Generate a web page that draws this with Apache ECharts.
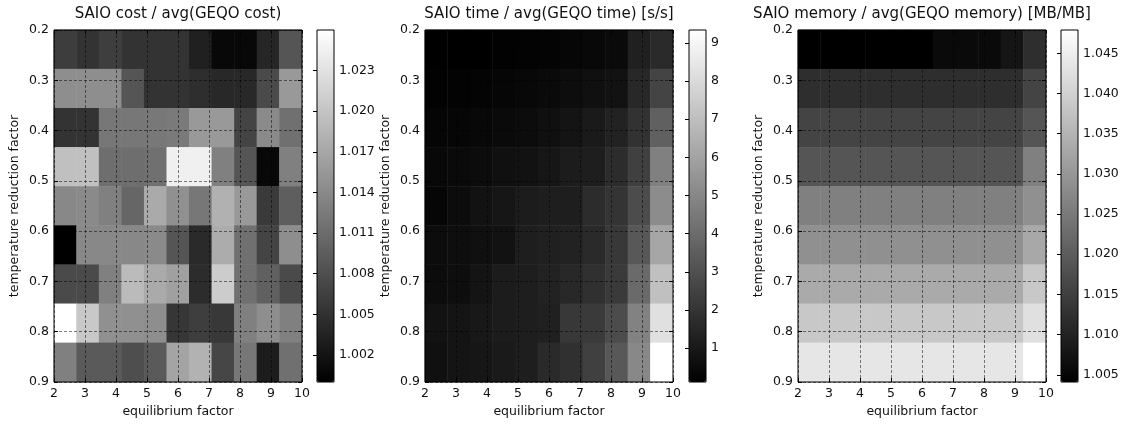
<!DOCTYPE html>
<html><head><meta charset="utf-8">
<script src="https://cdn.jsdelivr.net/npm/echarts@6/dist/echarts.min.js"></script>
<style>html,body{margin:0;padding:0;background:#fff}#c{width:1124px;height:424px}</style>
</head><body><div id="c"></div>
<script>
// ---- data ----
const titles = ['SAIO cost / avg(GEQO cost)', 'SAIO time / avg(GEQO time) [s/s]', 'SAIO memory / avg(GEQO memory) [MB/MB]'];
const xName = 'equilibrium factor';
const yName = 'temperature reduction factor';
const xTicks = [2, 3, 4, 5, 6, 7, 8, 9, 10];
const yTicks = [0.2, 0.3, 0.4, 0.5, 0.6, 0.7, 0.8, 0.9];
const xCells = ['1','2','3','4','5','6','7','8','9','10','11'];
const yCells = ['1','2','3','4','5','6','7','8','9'];

const costRows = [
  [1.0062, 1.0052, 1.0063, 1.0052, 1.0052, 1.0052, 1.0033, 1.0008, 1.0008, 1.0039, 1.0087],
  [1.0145, 1.0145, 1.0145, 1.0087, 1.0052, 1.0052, 1.0047, 1.0041, 1.0041, 1.0075, 1.0156],
  [1.0052, 1.0052, 1.0121, 1.0121, 1.0122, 1.0124, 1.0156, 1.0156, 1.0069, 1.0141, 1.0114],
  [1.0196, 1.0196, 1.0112, 1.0112, 1.0114, 1.0245, 1.0245, 1.0131, 1.0087, 1.0008, 1.0131],
  [1.0139, 1.0141, 1.0131, 1.0104, 1.0173, 1.0147, 1.0121, 1.0180, 1.0156, 1.0059, 1.0096],
  [1.0000, 1.0139, 1.0139, 1.0139, 1.0141, 1.0087, 1.0043, 1.0175, 1.0114, 1.0069, 1.0145],
  [1.0075, 1.0075, 1.0131, 1.0191, 1.0173, 1.0163, 1.0045, 1.0208, 1.0114, 1.0098, 1.0075],
  [1.0260, 1.0204, 1.0147, 1.0147, 1.0145, 1.0055, 1.0063, 1.0057, 1.0131, 1.0145, 1.0131],
  [1.0131, 1.0092, 1.0092, 1.0080, 1.0092, 1.0167, 1.0182, 1.0071, 1.0121, 1.0029, 1.0114]
];
const timeRows = [
  [0.11, 0.11, 0.11, 0.18, 0.22, 0.25, 0.33, 0.40, 0.47, 1.27, 1.63],
  [0.18, 0.22, 0.25, 0.33, 0.40, 0.47, 0.58, 0.69, 0.76, 1.56, 2.57],
  [0.29, 0.33, 0.40, 0.47, 0.54, 0.69, 0.83, 1.05, 1.34, 1.92, 3.59],
  [0.40, 0.47, 0.54, 0.69, 0.76, 0.91, 1.12, 1.20, 1.70, 2.43, 4.74],
  [0.33, 0.54, 0.76, 0.91, 1.12, 1.20, 1.20, 1.70, 1.99, 2.86, 5.18],
  [0.54, 0.62, 0.69, 0.76, 1.20, 1.27, 1.34, 1.63, 2.14, 3.30, 6.12],
  [0.54, 0.62, 0.83, 1.12, 1.20, 1.34, 1.56, 1.85, 2.21, 3.95, 7.06],
  [0.76, 0.83, 0.98, 1.12, 1.20, 1.27, 2.14, 2.21, 2.86, 4.82, 8.22],
  [0.69, 0.83, 0.91, 1.05, 1.20, 1.63, 1.85, 2.43, 3.30, 5.03, 9.34]
];
const memRows = [
  [1.0041, 1.0041, 1.0041, 1.0041, 1.0041, 1.0041, 1.0058, 1.0058, 1.0058, 1.0077, 1.0120],
  [1.0120, 1.0120, 1.0120, 1.0120, 1.0120, 1.0120, 1.0120, 1.0120, 1.0120, 1.0120, 1.0158],
  [1.0158, 1.0158, 1.0158, 1.0158, 1.0158, 1.0158, 1.0158, 1.0158, 1.0158, 1.0158, 1.0187],
  [1.0187, 1.0187, 1.0187, 1.0187, 1.0187, 1.0187, 1.0187, 1.0187, 1.0187, 1.0187, 1.0261],
  [1.0261, 1.0261, 1.0261, 1.0261, 1.0261, 1.0261, 1.0261, 1.0261, 1.0261, 1.0261, 1.0288],
  [1.0288, 1.0288, 1.0288, 1.0288, 1.0288, 1.0288, 1.0288, 1.0288, 1.0288, 1.0288, 1.0330],
  [1.0333, 1.0333, 1.0333, 1.0333, 1.0333, 1.0333, 1.0333, 1.0333, 1.0333, 1.0333, 1.0385],
  [1.0385, 1.0385, 1.0385, 1.0385, 1.0385, 1.0385, 1.0385, 1.0385, 1.0385, 1.0385, 1.0426],
  [1.0436, 1.0436, 1.0436, 1.0436, 1.0436, 1.0436, 1.0436, 1.0436, 1.0436, 1.0436, 1.0479]
];
const costRange = [1.0000, 1.0260];
const timeRange = [0.11, 9.34];
const memRange = [1.0041, 1.0479];
const costCbTicks = [1.002, 1.005, 1.008, 1.011, 1.014, 1.017, 1.020, 1.023];
const timeCbTicks = [1, 2, 3, 4, 5, 6, 7, 8, 9];
const memCbTicks = [1.005, 1.010, 1.015, 1.020, 1.025, 1.030, 1.035, 1.040, 1.045];

// ---- layout / style ----
const FONT = 'DejaVu Sans';
const TXT = '#111';
const TOP = 30, W = 248, H = 352, CBW = 17;
const panels = [
  {left: 54, cbLeft: 317, rows: costRows, range: costRange, cbTicks: costCbTicks, fmt: v => v.toFixed(3)},
  {left: 425, cbLeft: 689, rows: timeRows, range: timeRange, cbTicks: timeCbTicks, fmt: v => String(v)},
  {left: 798, cbLeft: 1061, rows: memRows, range: memRange, cbTicks: memCbTicks, fmt: v => v.toFixed(3)}
];

const option = {
  animation: false,
  backgroundColor: '#fff',
  textStyle: {fontFamily: FONT},
  title: [], grid: [], xAxis: [], yAxis: [], series: [], visualMap: []
};

const labelStyle = {fontFamily: FONT, fontSize: 12.5, color: TXT};
const tickStyle = {inside: true, length: 4, lineStyle: {color: '#000', width: 1}};
const gridLine = {show: true, lineStyle: {color: '#000', opacity: 0.5, width: 1, type: [3, 2]}};

panels.forEach((p, i) => {
  const g = i * 3;
  option.title.push({
    text: titles[i], left: p.left + W / 2, top: 7, textAlign: 'center', padding: 0,
    textStyle: {fontFamily: FONT, fontSize: 15, fontWeight: 'normal', color: TXT}
  });
  option.grid.push({left: p.left, top: TOP, width: W, height: H, containLabel: false});
  option.grid.push({left: p.left, top: TOP, width: W, height: H, show: true, borderColor: '#000', borderWidth: 1, backgroundColor: 'transparent', z: 6});
  option.grid.push({left: p.cbLeft, top: TOP, width: CBW, height: H, show: true, borderColor: '#000', borderWidth: 1, backgroundColor: 'transparent', z: 10});

  option.xAxis.push({gridIndex: g, type: 'category', data: xCells, show: false});
  option.yAxis.push({gridIndex: g, type: 'category', data: yCells, inverse: true, show: false});

  option.xAxis.push({
    gridIndex: g + 1, type: 'value', min: xTicks[0], max: xTicks[xTicks.length - 1], interval: 1, position: 'bottom', z: 7,
    axisLine: {show: false}, axisTick: tickStyle,
    axisLabel: Object.assign({margin: 5}, labelStyle),
    splitLine: gridLine,
    name: xName, nameLocation: 'middle', nameGap: 23, nameTextStyle: labelStyle
  });
  option.xAxis.push({
    gridIndex: g + 1, type: 'value', min: xTicks[0], max: xTicks[xTicks.length - 1], interval: 1, position: 'top', z: 7,
    axisLine: {show: false}, axisTick: tickStyle, axisLabel: {show: false}, splitLine: {show: false}
  });
  option.yAxis.push({
    gridIndex: g + 1, type: 'value', min: yTicks[0], max: yTicks[yTicks.length - 1], interval: 0.1, inverse: true, position: 'left', z: 7,
    axisLine: {show: false}, axisTick: tickStyle,
    axisLabel: Object.assign({margin: 5, formatter: v => v.toFixed(1)}, labelStyle),
    splitLine: gridLine,
    name: yName, nameLocation: 'middle', nameGap: 33, nameRotate: 90, nameTextStyle: labelStyle
  });
  option.yAxis.push({
    gridIndex: g + 1, type: 'value', min: yTicks[0], max: yTicks[yTicks.length - 1], interval: 0.1, inverse: true, position: 'right', z: 7,
    axisLine: {show: false}, axisTick: tickStyle, axisLabel: {show: false}, splitLine: {show: false}
  });

  option.xAxis.push({gridIndex: g + 2, type: 'value', show: false});
  option.yAxis.push({
    gridIndex: g + 2, type: 'value', min: p.range[0], max: p.range[1], position: 'right', z: 11,
    axisLine: {show: false},
    axisTick: {show: true, inside: true, length: 4, lineStyle: {color: '#000'}, customValues: p.cbTicks},
    axisLabel: Object.assign({margin: 5, customValues: p.cbTicks, formatter: p.fmt}, labelStyle),
    splitLine: {show: false}
  });

  const data = [];
  p.rows.forEach((row, r) => row.forEach((v, c) => data.push([c, r, v])));
  option.series.push({
    type: 'heatmap', xAxisIndex: i * 4, yAxisIndex: i * 4, data: data,
    emphasis: {disabled: true}, itemStyle: {borderWidth: 0}, progressive: 0
  });

  option.visualMap.push({
    type: 'continuous', seriesIndex: i, min: p.range[0], max: p.range[1],
    inRange: {color: ['#000000', '#ffffff']}, calculable: false, hoverLink: false,
    orient: 'vertical', left: p.cbLeft, top: TOP, itemWidth: CBW, itemHeight: H, padding: 0,
    text: null, show: true
  });
});

const chart = echarts.init(document.getElementById('c'), null, {renderer: 'canvas'});
chart.setOption(option);
</script>
</body></html>
